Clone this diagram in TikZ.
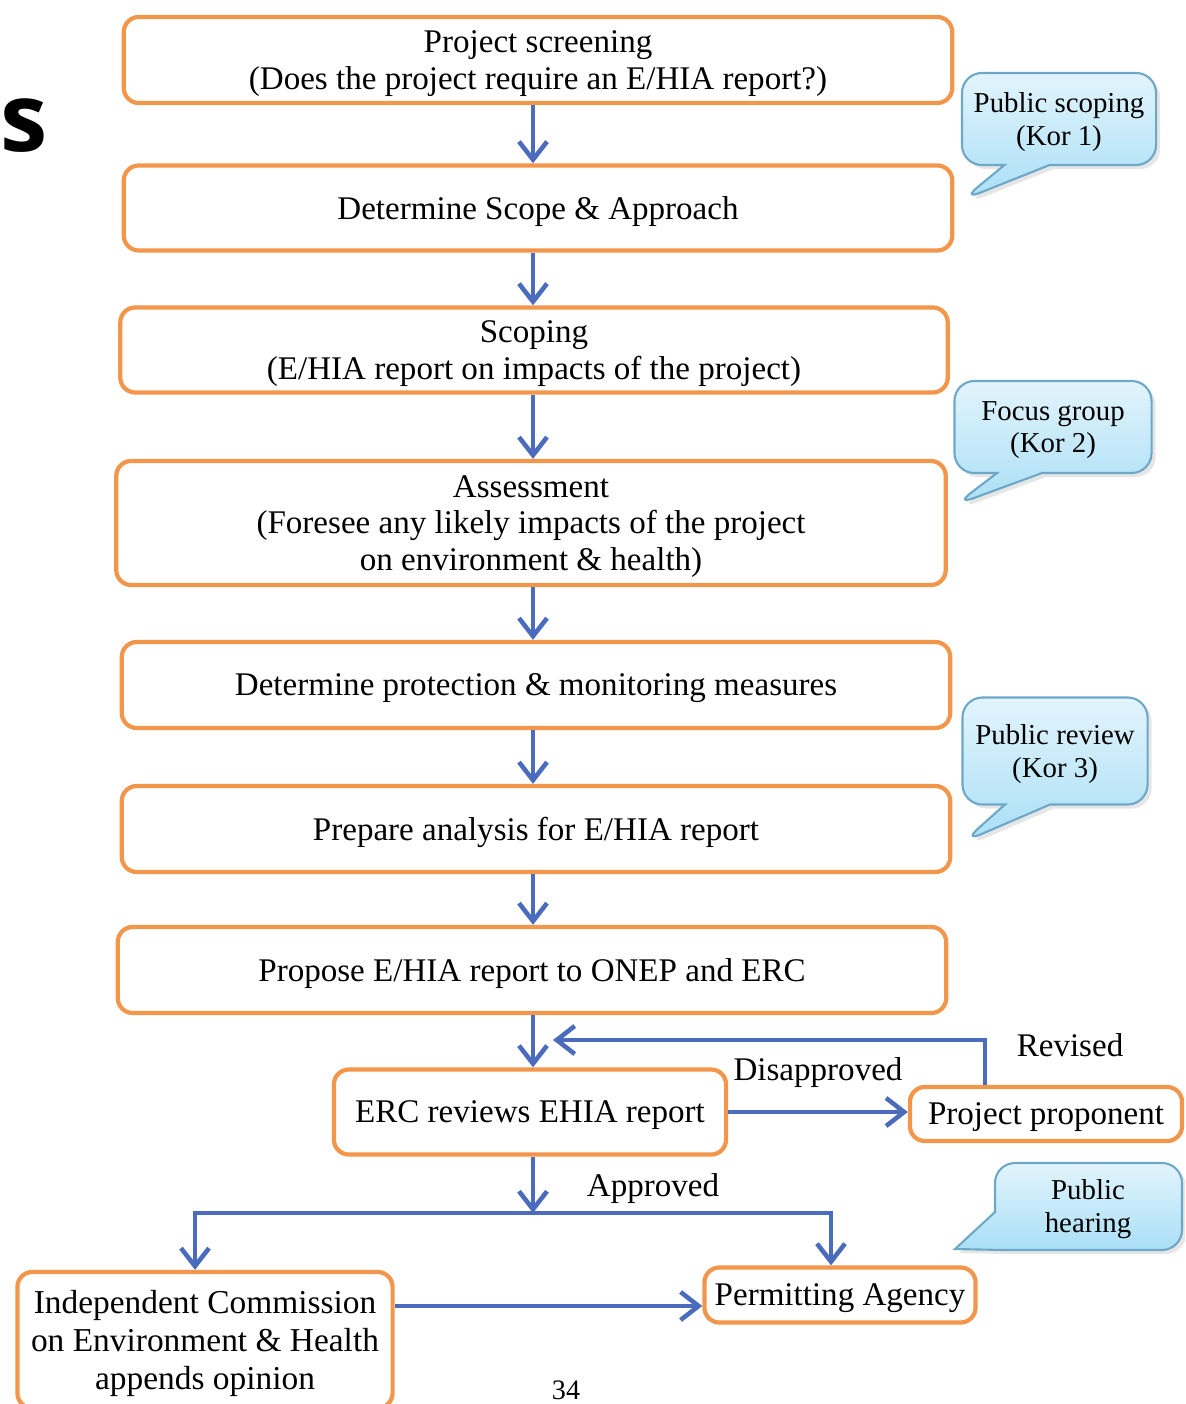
\documentclass[tikz,border=0pt]{standalone}
\usepackage{fontspec}
\setmainfont{Liberation Serif}
\newfontfamily\slidefont{Open Sans}
\usepackage{tikz}
\usetikzlibrary{arrows.meta,shapes.callouts,shadows}
\usepackage{xcolor}
\definecolor{boxorange}{RGB}{242,150,75}
\definecolor{flowblue}{RGB}{75,108,188}
\definecolor{bubbleedge}{RGB}{110,168,200}
\definecolor{bubbletop}{RGB}{226,244,252}
\definecolor{bubblebottom}{RGB}{170,223,246}

\begin{document}
\begin{tikzpicture}[x=0.01cm,y=-0.01cm,
  stage/.style={draw=boxorange, line width=1.2pt, rounded corners=0.15cm, fill=white,
    align=center, inner sep=0pt, text depth=0pt, font={\fontsize{9.4}{10.3}\selectfont}},
  flow/.style={draw=flowblue, line width=1.3pt, -{Straight Barb[length=1.8mm,width=2.8mm]}},
  bubbleskin/.style={draw=bubbleedge, line width=0.6pt, top color=bubbletop, bottom color=bubblebottom,
    drop shadow={opacity=0.2, shadow xshift=0.4mm, shadow yshift=-0.4mm}},
  bubble/.style={rectangle callout, rounded corners=0.2cm, bubbleskin, callout pointer width=0.45cm,
    align=center, inner sep=0pt, text depth=0pt, font={\fontsize{8.2}{9.2}\selectfont}},
  tag/.style={font={\fontsize{9.4}{10.3}\selectfont}}]
  \useasboundingbox (0,0) rectangle (1185,1404);
  \clip (0,0) rectangle (1185,1404);

  % left-over of the slide title
  \node[anchor=west, inner sep=0pt, font={\slidefont\bfseries\fontsize{27}{27}\selectfont}] (title) at (0,126) {s};

  % main column
  \coordinate (spine) at (533,0);
  \node[stage, minimum width=8.28cm, minimum height=0.86cm] (screen) at (538,60) {Project screening\\(Does the project require an E/HIA report?)};
  \node[stage, minimum width=8.28cm, minimum height=0.85cm] (scope) at (538,208) {Determine Scope \& Approach};
  \node[stage, minimum width=8.27cm, minimum height=0.85cm] (scoping) at (534,350) {Scoping\\(E/HIA report on impacts of the project)};
  \node[stage, minimum width=8.29cm, minimum height=1.24cm] (assess) at (531,523) {Assessment\\(Foresee any likely impacts of the project\\on environment \& health)};
  \node[stage, minimum width=8.28cm, minimum height=0.86cm] (measures) at (536,685) {Determine protection \& monitoring measures};
  \node[stage, minimum width=8.28cm, minimum height=0.86cm] (analysis) at (536,829) {Prepare analysis for E/HIA report};
  \node[stage, minimum width=8.28cm, minimum height=0.86cm] (propose) at (532,970) {Propose E/HIA report to ONEP and ERC};

  % review and decision
  \node[stage, minimum width=3.92cm, minimum height=0.85cm] (erc) at (530,1112) {ERC reviews EHIA report};
  \node[stage, minimum width=2.72cm, minimum height=0.54cm] (proponent) at (1046,1114) {Project proponent};
  \node[stage, minimum width=2.71cm, minimum height=0.55cm] (permit) at (840,1295) {Permitting Agency};
  \node[stage, minimum width=3.75cm, minimum height=1.36cm, font={\fontsize{9.5}{10.9}\selectfont}] (indep) at (205,1340) {Independent Commission\\on Environment \& Health\\appends opinion};

  % public participation
  \node[bubble, minimum width=1.94cm, minimum height=0.92cm, callout absolute pointer={(962,200)}] (kor1) at (1059,119) {Public scoping\\(Kor 1)};
  \node[bubble, minimum width=1.97cm, minimum height=0.92cm, callout absolute pointer={(955,505)}] (kor2) at (1053,427) {Focus group\\(Kor 2)};
  \node[bubble, minimum width=1.85cm, minimum height=1.07cm, callout absolute pointer={(963,842)}] (kor3) at (1055,751) {Public review\\(Kor 3)};
  \path[bubbleskin] (995,1212) -- (955,1249) -- (1003,1250)
    [rounded corners=0.2cm] -- (1182,1250) -- (1182,1163) -- (995,1163) [sharp corners] -- cycle;
  \node[align=center, inner sep=0pt, text depth=0pt, font={\fontsize{8.2}{9.4}\selectfont}] (hearing) at (1088,1206) {Public\\hearing};

  % downward steps
  \draw[flow] (screen.south -| spine) -- (scope.north -| spine);
  \draw[flow] (scope.south -| spine) -- (scoping.north -| spine);
  \draw[flow] (scoping.south -| spine) -- (assess.north -| spine);
  \draw[flow] (assess.south -| spine) -- (measures.north -| spine);
  \draw[flow] (measures.south -| spine) -- (analysis.north -| spine);
  \draw[flow] (analysis.south -| spine) -- (propose.north -| spine);
  \draw[flow] (propose.south -| spine) -- (erc.north -| spine);

  % disapproved loop
  \coordinate (revtip) at (553,1040);
  \draw[flow] (erc.east) -- (erc.east -| proponent.west) node[tag, midway, above=0.1cm] (disapp) {Disapproved};
  \draw[flow] ([xshift=-0.61cm]proponent.north) |- (revtip);
  \node[tag] (revised) at (1070,1045) {Revised};

  % approved branch
  \coordinate (split) at (533,1213);
  \draw[flow] (erc.south -| spine) -- (split);
  \node[tag] (approved) at (653,1189) {Approved};
  \draw[flow] (split) -| ([xshift=-0.1cm]indep.north);
  \draw[flow] (split) -| ([xshift=-0.09cm]permit.north);
  \draw[flow] ([yshift=-0.11cm]permit.west -| indep.east) -- ([yshift=-0.11cm]permit.west);

  % page number
  \node[font={\fontsize{8}{8}\selectfont}, inner sep=0pt] (page) at (566,1390) {34};
\end{tikzpicture}
\end{document}
